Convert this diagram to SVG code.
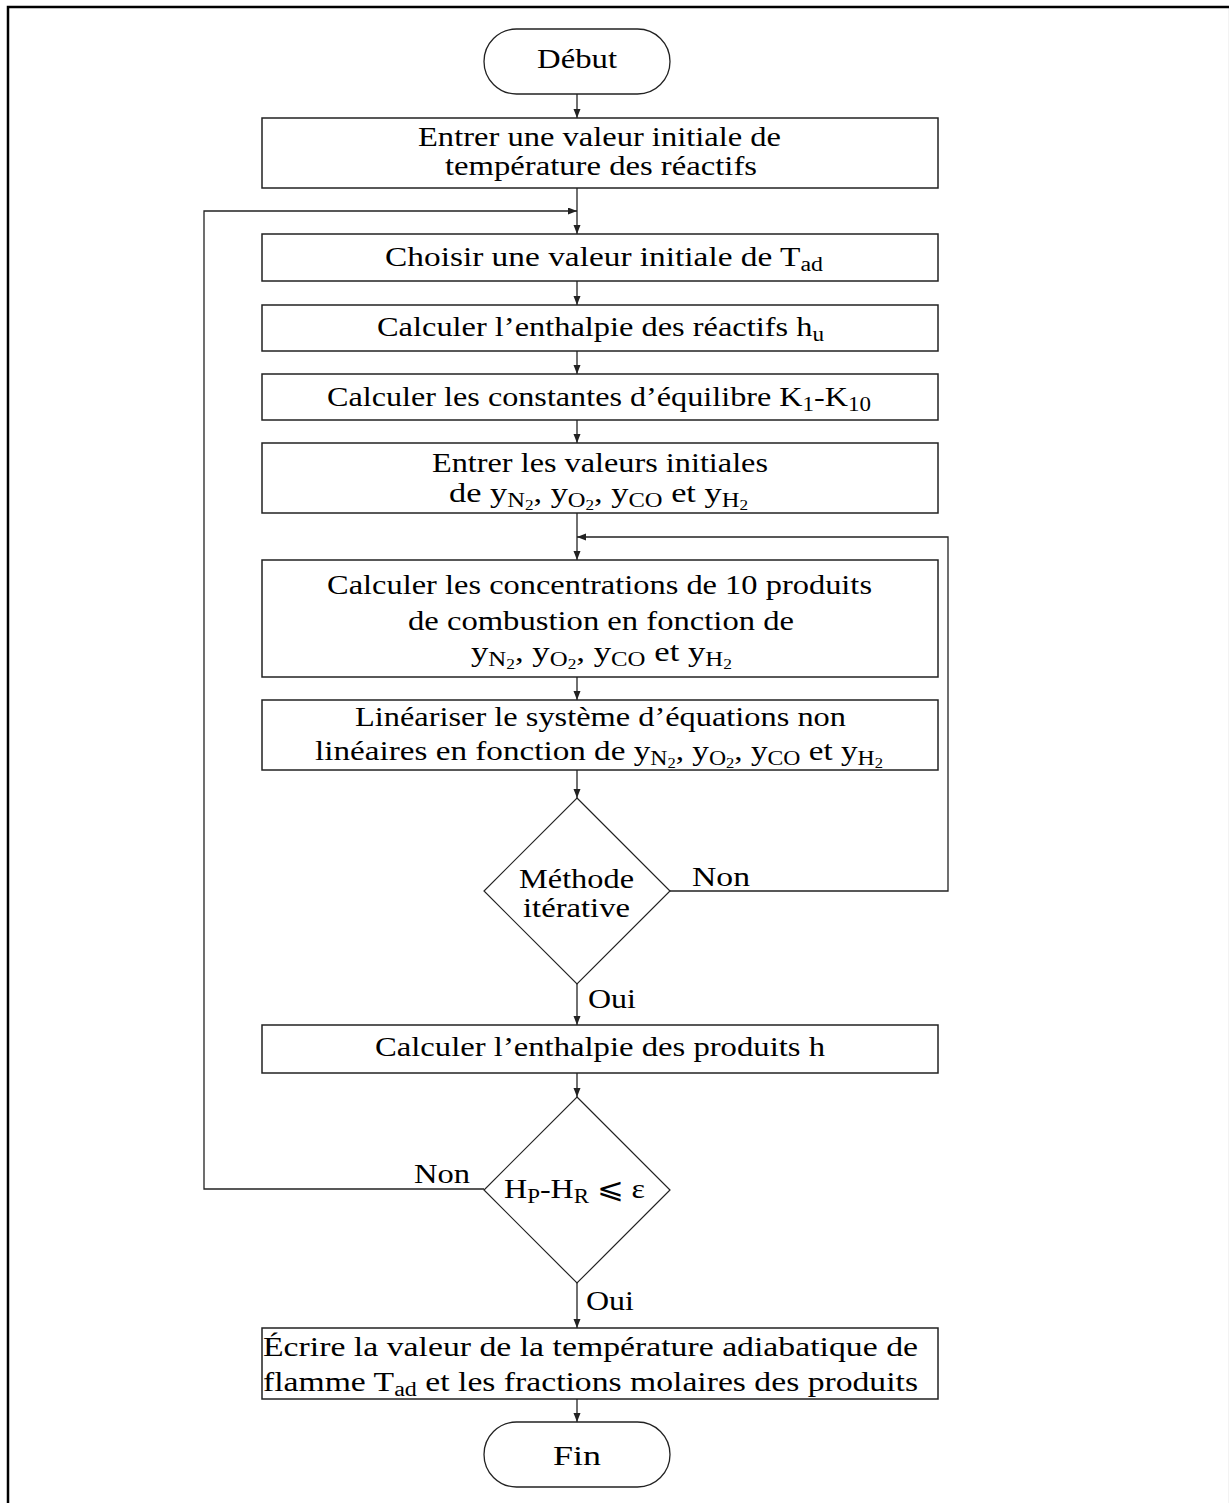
<svg xmlns="http://www.w3.org/2000/svg" width="1229" height="1503" viewBox="0 0 1229 1503">
  <style>
    .box { fill: #ffffff; stroke: #222222; stroke-width: 1.5; }
    .term { fill: #ffffff; stroke: #222222; stroke-width: 1.3; }
    .dec { fill: #ffffff; stroke: #222222; stroke-width: 1.2; }
    .edge { fill: none; stroke: #222222; stroke-width: 1.3; }
    .frame { fill: none; stroke: #000000; stroke-width: 2.5; }
    text { font-family: "Liberation Serif", "DejaVu Serif", serif; font-size: 28px; fill: #000000; }
    .s1 { font-size: 20px; }
    .s2 { font-size: 14px; }
    .sym { font-family: "DejaVu Serif", "Liberation Serif", serif; }
  </style>
  <defs>
    <marker id="ah" markerWidth="10" markerHeight="8" refX="9" refY="3.5" orient="auto" markerUnits="userSpaceOnUse">
      <path d="M0,0 L9,3.5 L0,7 z" fill="#222222"/>
    </marker>
  </defs>

  <!-- page frame (right and bottom edges run off the page) -->
  <rect class="frame" x="8" y="7" width="1222.2" height="1520"/>

  <!-- connectors -->
  <g id="connectors">
    <line class="edge" x1="577" y1="94" x2="577" y2="118" marker-end="url(#ah)"/>
    <line class="edge" x1="577" y1="188" x2="577" y2="234" marker-end="url(#ah)"/>
    <line class="edge" x1="577" y1="281" x2="577" y2="305" marker-end="url(#ah)"/>
    <line class="edge" x1="577" y1="351" x2="577" y2="374" marker-end="url(#ah)"/>
    <line class="edge" x1="577" y1="420" x2="577" y2="443" marker-end="url(#ah)"/>
    <line class="edge" x1="577" y1="513" x2="577" y2="560" marker-end="url(#ah)"/>
    <line class="edge" x1="577" y1="677" x2="577" y2="700" marker-end="url(#ah)"/>
    <line class="edge" x1="577" y1="770" x2="577" y2="798" marker-end="url(#ah)"/>
    <line class="edge" x1="577" y1="984" x2="577" y2="1025" marker-end="url(#ah)"/>
    <line class="edge" x1="577" y1="1073" x2="577" y2="1097" marker-end="url(#ah)"/>
    <line class="edge" x1="577" y1="1283" x2="577" y2="1328" marker-end="url(#ah)"/>
    <line class="edge" x1="577" y1="1399" x2="577" y2="1422" marker-end="url(#ah)"/>
    <!-- inner loop: Non back to the concentration step -->
    <polyline class="edge" points="670,891 948,891 948,537 577,537" marker-end="url(#ah)"/>
    <!-- outer loop: Non back to the choice of T_ad -->
    <polyline class="edge" points="484,1189 204,1189 204,211 577,211" marker-end="url(#ah)"/>
    <text x="692" y="886" textLength="58" lengthAdjust="spacingAndGlyphs">Non</text>
    <text x="588" y="1008" textLength="48" lengthAdjust="spacingAndGlyphs">Oui</text>
    <text x="414" y="1183" textLength="56" lengthAdjust="spacingAndGlyphs">Non</text>
    <text x="586" y="1310" textLength="48" lengthAdjust="spacingAndGlyphs">Oui</text>
  </g>

  <g id="debut">
    <rect class="term" x="484" y="29" width="186" height="65" rx="32.5"/>
    <text x="537" y="68" textLength="80" lengthAdjust="spacingAndGlyphs">Début</text>
  </g>

  <g id="entrer-temperature">
    <rect class="box" x="262" y="118" width="676" height="70"/>
    <text x="418" y="146" textLength="363" lengthAdjust="spacingAndGlyphs">Entrer une valeur initiale de</text>
    <text x="445" y="175" textLength="312" lengthAdjust="spacingAndGlyphs">température des réactifs</text>
  </g>

  <g id="choisir-tad">
    <rect class="box" x="262" y="234" width="676" height="47"/>
    <text x="385" y="266" textLength="438" lengthAdjust="spacingAndGlyphs">Choisir une valeur initiale de T<tspan class="s1" dy="5">ad</tspan></text>
  </g>

  <g id="enthalpie-reactifs">
    <rect class="box" x="262" y="305" width="676" height="46"/>
    <text x="377" y="336" textLength="447" lengthAdjust="spacingAndGlyphs">Calculer l’enthalpie des réactifs h<tspan class="s1" dy="5">u</tspan></text>
  </g>

  <g id="constantes">
    <rect class="box" x="262" y="374" width="676" height="46"/>
    <text x="327" y="406" textLength="544" lengthAdjust="spacingAndGlyphs">Calculer les constantes d’équilibre K<tspan class="s1" dy="5">1</tspan><tspan dy="-5">-K</tspan><tspan class="s1" dy="5">10</tspan></text>
  </g>

  <g id="valeurs-initiales">
    <rect class="box" x="262" y="443" width="676" height="70"/>
    <text x="432" y="472" textLength="336" lengthAdjust="spacingAndGlyphs">Entrer les valeurs initiales</text>
    <text x="449" y="502" textLength="299" lengthAdjust="spacingAndGlyphs">de y<tspan class="s1" dy="5">N</tspan><tspan class="s2" dy="3">2</tspan><tspan dy="-8">, y</tspan><tspan class="s1" dy="5">O</tspan><tspan class="s2" dy="3">2</tspan><tspan dy="-8">, y</tspan><tspan class="s1" dy="5">CO</tspan><tspan dy="-5"> et y</tspan><tspan class="s1" dy="5">H</tspan><tspan class="s2" dy="3">2</tspan></text>
  </g>

  <g id="concentrations">
    <rect class="box" x="262" y="560" width="676" height="117"/>
    <text x="327" y="594" textLength="545" lengthAdjust="spacingAndGlyphs">Calculer les concentrations de 10 produits</text>
    <text x="408" y="630" textLength="386" lengthAdjust="spacingAndGlyphs">de combustion en fonction de</text>
    <text x="471" y="661" textLength="261" lengthAdjust="spacingAndGlyphs">y<tspan class="s1" dy="5">N</tspan><tspan class="s2" dy="3">2</tspan><tspan dy="-8">, y</tspan><tspan class="s1" dy="5">O</tspan><tspan class="s2" dy="3">2</tspan><tspan dy="-8">, y</tspan><tspan class="s1" dy="5">CO</tspan><tspan dy="-5"> et y</tspan><tspan class="s1" dy="5">H</tspan><tspan class="s2" dy="3">2</tspan></text>
  </g>

  <g id="linearisation">
    <rect class="box" x="262" y="700" width="676" height="70"/>
    <text x="355" y="726" textLength="491" lengthAdjust="spacingAndGlyphs">Linéariser le système d’équations non</text>
    <text x="315" y="760" textLength="568" lengthAdjust="spacingAndGlyphs">linéaires en fonction de y<tspan class="s1" dy="5">N</tspan><tspan class="s2" dy="3">2</tspan><tspan dy="-8">, y</tspan><tspan class="s1" dy="5">O</tspan><tspan class="s2" dy="3">2</tspan><tspan dy="-8">, y</tspan><tspan class="s1" dy="5">CO</tspan><tspan dy="-5"> et y</tspan><tspan class="s1" dy="5">H</tspan><tspan class="s2" dy="3">2</tspan></text>
  </g>

  <g id="methode-iterative">
    <polygon class="dec" points="577,798 670,891 577,984 484,891"/>
    <text x="519" y="888" textLength="115" lengthAdjust="spacingAndGlyphs">Méthode</text>
    <text x="523" y="917" textLength="107" lengthAdjust="spacingAndGlyphs">itérative</text>
  </g>

  <g id="enthalpie-produits">
    <rect class="box" x="262" y="1025" width="676" height="48"/>
    <text x="375" y="1056" textLength="450" lengthAdjust="spacingAndGlyphs">Calculer l’enthalpie des produits h</text>
  </g>

  <g id="test-convergence">
    <polygon class="dec" points="577,1097 670,1190 577,1283 484,1190"/>
    <text x="504" y="1198" textLength="141" lengthAdjust="spacingAndGlyphs">H<tspan class="s1" dy="5">P</tspan><tspan dy="-5">-H</tspan><tspan class="s1" dy="5">R</tspan><tspan dy="-5"> </tspan><tspan class="sym">⩽</tspan> ε</text>
  </g>

  <g id="ecrire-resultats">
    <rect class="box" x="262" y="1328" width="676" height="71"/>
    <text x="263" y="1356" textLength="655" lengthAdjust="spacingAndGlyphs">Écrire la valeur de la température adiabatique de</text>
    <text x="263" y="1391" textLength="655" lengthAdjust="spacingAndGlyphs">flamme T<tspan class="s1" dy="5">ad</tspan><tspan dy="-5"> et les fractions molaires des produits</tspan></text>
  </g>

  <g id="fin">
    <rect class="term" x="484" y="1422" width="186" height="65" rx="32.5"/>
    <text x="553" y="1465" textLength="48" lengthAdjust="spacingAndGlyphs">Fin</text>
  </g>
</svg>
